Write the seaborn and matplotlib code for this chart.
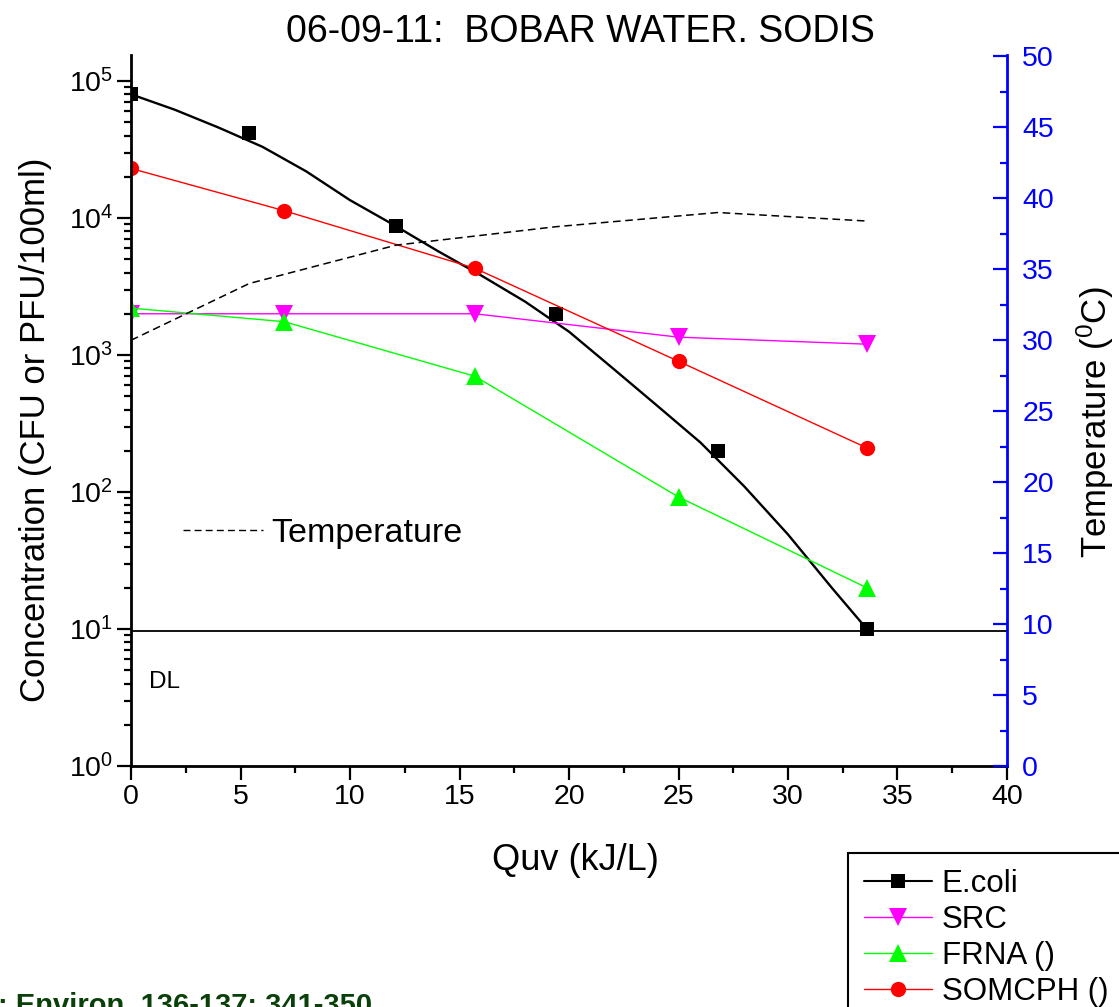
import numpy as np
import matplotlib
matplotlib.use('Agg')
import matplotlib.pyplot as plt
from matplotlib.lines import Line2D
from matplotlib.ticker import MultipleLocator, LogLocator, NullFormatter
import seaborn as sns

# measured points, Quv in kJ/L
ecoli_x = [0, 5.4, 12.1, 19.4, 26.8, 33.6]
ecoli_y = [80000, 42000, 8700, 2000, 200, 10]

# E.coli fitted curve
ecoli_fit_x = [0, 2, 4, 6, 8, 10, 12, 14, 16, 18, 20, 22, 24, 26, 28, 30, 32, 33.6]
ecoli_fit_y = [80000, 61700, 45700, 33100, 21900, 13500, 8900, 5750, 3800, 2450,
               1480, 800, 430, 230, 110, 49, 20, 10]

phage_x = [0, 7, 15.7, 25, 33.6]
src_y = [2000, 2000, 2000, 1350, 1200]
frna_y = [2200, 1750, 700, 92, 20]
somcph_y = [23000, 11300, 4300, 900, 210]

temp_x = [0, 5.4, 12.1, 19.4, 26.8, 33.6]
temp_c = [30.0, 34.0, 36.7, 38.0, 39.0, 38.4]

detection_limit = 9.6

sns.set_style('ticks')
plt.rcParams['font.family'] = ['Liberation Sans', 'DejaVu Sans']
plt.rcParams['mathtext.fontset'] = 'custom'
plt.rcParams['mathtext.rm'] = 'Liberation Sans'
plt.rcParams['mathtext.it'] = 'Liberation Sans:italic'
plt.rcParams['text.color'] = 'black'
plt.rcParams['axes.labelcolor'] = 'black'
plt.rcParams['xtick.color'] = 'black'
plt.rcParams['ytick.color'] = 'black'
plt.rcParams['axes.edgecolor'] = 'black'

fig = plt.figure(figsize=(11.19, 10.07), dpi=100)
ax = fig.add_axes([0.1171, 0.2393, 0.7828, 0.7061])
ax.set_yscale('log')
ax2 = ax.twinx()

# detection limit
ax.axhline(detection_limit, color='black', lw=1.3, zorder=1)

# E.coli: fitted curve + points
sns.lineplot(x=ecoli_fit_x, y=ecoli_fit_y, color='black', lw=1.7, estimator=None,
             sort=False, ax=ax)
sns.lineplot(x=ecoli_x, y=ecoli_y, color='black', linestyle='', marker='s', markersize=10,
             markeredgecolor='black', markeredgewidth=0, estimator=None, ax=ax)

series = [
    ('SRC', src_y, '#ff00ff', 'v', 13),
    ('FRNA ()', frna_y, '#00ff00', '^', 13),
    ('SOMCPH ()', somcph_y, '#ff0000', 'o', 11),
]
for name, ys, col, mk, ms in series:
    sns.lineplot(x=phage_x, y=ys, color=col, lw=1.0, marker=mk, markersize=ms,
                 markeredgecolor=col, markeredgewidth=0, estimator=None, ax=ax)

# temperature on the right axis
sns.lineplot(x=temp_x, y=temp_c, color='black', lw=1.1, linestyle=(0, (5, 3)),
             estimator=None, ax=ax2)

ax.set_xlim(0, 40)
ax.set_ylim(1, 10 ** 5.19)
ax2.set_ylim(0, 50.1)

ax.xaxis.set_major_locator(MultipleLocator(5))
ax.xaxis.set_minor_locator(MultipleLocator(2.5))
ax.yaxis.set_major_locator(LogLocator(base=10, numticks=10))
ax.yaxis.set_minor_locator(LogLocator(base=10, subs=np.arange(2, 10), numticks=20))
ax.yaxis.set_minor_formatter(NullFormatter())
ax.tick_params(which='major', direction='out', length=10, width=1.6, labelsize=20.5, pad=3)
ax.tick_params(which='minor', direction='out', length=5, width=1.6)

ax2.yaxis.set_major_locator(MultipleLocator(5))
ax2.yaxis.set_minor_locator(MultipleLocator(2.5))
ax2.tick_params(axis='y', which='major', direction='in', length=10, width=1.6,
                colors='blue', labelsize=20.5, pad=11)
ax2.tick_params(axis='y', which='minor', direction='in', length=5, width=1.6, colors='blue')

for s in ['top', 'right']:
    ax.spines[s].set_visible(False)
for s in ['top', 'left', 'bottom']:
    ax2.spines[s].set_visible(False)
ax.spines['left'].set_linewidth(2)
ax.spines['bottom'].set_linewidth(2)
ax2.spines['right'].set_linewidth(2)
ax2.spines['right'].set_color('blue')
ax2.grid(False)

ax.set_xlabel('Quv (kJ/L)', fontsize=26)
ax.xaxis.set_label_coords(0.507, -0.108)
ax.set_ylabel('Concentration (CFU or PFU/100ml)', fontsize=25)
ax.yaxis.set_label_coords(-0.090, 0.4726)
ax2.set_ylabel('Temperature ($^0$C)', fontsize=25, color='black')
ax2.yaxis.set_label_coords(1.077, 0.484)

fig.text(0.519, 0.958, '06-09-11:  BOBAR WATER. SODIS', ha='center', va='baseline', fontsize=27)
ax.text(0.8, 3.7, 'DL', fontsize=17.5, va='baseline')

# temperature key inside the plot
temp_handle = Line2D([], [], color='black', lw=1.0, linestyle=(0, (5, 3)))
ax2.legend([temp_handle], ['Temperature'], loc='center left',
           bbox_to_anchor=((183 - 131) / 876, (766 - 533) / 711), frameon=False,
           fontsize=24.5, handlelength=2.35, handletextpad=0.25, borderpad=0, borderaxespad=0)

handles = [
    Line2D([], [], color='black', lw=1.5, marker='s', markersize=10, markeredgewidth=0),
    Line2D([], [], color='#ff00ff', lw=1.0, marker='v', markersize=13, markeredgewidth=0),
    Line2D([], [], color='#00ff00', lw=1.0, marker='^', markersize=13, markeredgewidth=0),
    Line2D([], [], color='#ff0000', lw=1.0, marker='o', markersize=11, markeredgewidth=0),
]
labels = ['E.coli', 'SRC', 'FRNA ()', 'SOMCPH ()']
leg = fig.legend(handles, labels, loc='upper left', bbox_to_anchor=(848 / 1119, 1 - 853 / 1007),
                 fontsize=22.5, frameon=True, fancybox=False, edgecolor='black', framealpha=1,
                 borderpad=0.5, handlelength=2.2, handletextpad=0.3, labelspacing=0.2,
                 borderaxespad=0)
leg.get_frame().set_linewidth(1.5)

fig.text(372 / 1119, 1 - 1014 / 1007, ': Environ. 136-137: 341-350', ha='right', va='baseline',
         fontsize=21, fontweight='bold', color='#0a400a')

fig.savefig('out.png', dpi=100)
